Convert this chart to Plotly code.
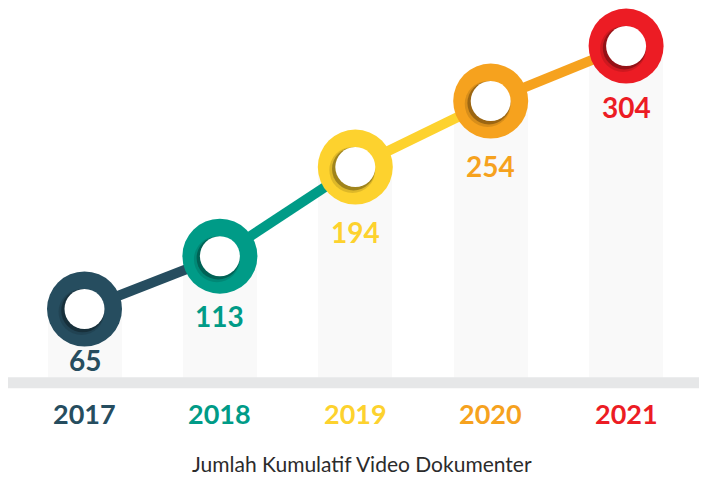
import plotly.graph_objects as go

# data
years = [2017, 2018, 2019, 2020, 2021]
values = [65, 113, 194, 254, 304]
colors = ["#264d5f", "#009b87", "#fdd22e", "#f6a21e", "#ec1c24"]
title_text = "Jumlah Kumulatif Video Dokumenter"

# style
label_shift = [51, 60, 65, 65, 61]   # px below ring centre
PX_X = 135.4                         # px per year
PX_Y = 1.1                           # px per unit
W, H = 699, 469                      # page body has an 8px margin
FONT = "Lato, 'Open Sans', sans-serif"

fig = go.Figure()

# pale columns behind each point
fig.add_trace(go.Bar(
    x=years, y=values, width=74 / PX_X,
    marker=dict(color="#f9f9f9", line=dict(width=0)),
    hoverinfo="skip", showlegend=False,
))

# line segments, coloured by the starting point
for i in range(len(years) - 1):
    fig.add_trace(go.Scatter(
        x=years[i:i + 2], y=values[i:i + 2], mode="lines",
        line=dict(color=colors[i], width=10),
        hoverinfo="skip", showlegend=False,
    ))

# rings
fig.add_trace(go.Scatter(
    x=years, y=values, mode="markers",
    marker=dict(size=75, color=colors, line=dict(width=0)),
    hoverinfo="skip", showlegend=False,
))

# soft shadow inside the hole (lower-left)
dx, dy = 3 / PX_X, 3 / PX_Y
fig.add_trace(go.Scatter(
    x=[x - dx for x in years], y=[v - dy for v in values], mode="markers",
    marker=dict(size=46, color="rgba(0,0,0,0.12)", line=dict(width=0)),
    hoverinfo="skip", showlegend=False,
))
fig.add_trace(go.Scatter(
    x=[x - dx * 0.6 for x in years], y=[v - dy * 0.6 for v in values], mode="markers",
    marker=dict(size=43, color="rgba(0,0,0,0.28)", line=dict(width=0)),
    hoverinfo="skip", showlegend=False,
))

# white centres
fig.add_trace(go.Scatter(
    x=years, y=values, mode="markers",
    marker=dict(size=40, color="white", line=dict(width=0)),
    hoverinfo="skip", showlegend=False,
))

# value labels
for yr, v, c, s in zip(years, values, colors, label_shift):
    fig.add_annotation(
        x=yr, y=v, xref="x", yref="y", text=f"<b>{v}</b>",
        showarrow=False, yshift=-s, yanchor="middle",
        font=dict(family=FONT, size=28, color=c),
    )

# year labels
for yr, c in zip(years, colors):
    fig.add_annotation(
        x=yr, y=1 - 405 / H, xref="x", yref="paper", text=f"<b>{yr}</b>",
        showarrow=False, yanchor="middle",
        font=dict(family=FONT, size=27, color=c),
    )

fig.add_annotation(
    x=354 / W, y=0, xref="paper", yref="paper", text=title_text,
    showarrow=False, yanchor="bottom", borderpad=0,
    font=dict(family=FONT, size=21, color="#2b2b2b"),
)

# grey ground band
fig.add_shape(
    type="rect", xref="paper", yref="y",
    x0=0, x1=1, y0=-7, y1=3,
    fillcolor="#e6e7e8", line=dict(width=0), layer="above",
)

x0 = 2017 - 76.5 / PX_X
y1 = 65 + 301 / PX_Y
fig.update_layout(
    width=W, height=H,
    margin=dict(l=0, r=0, t=0, b=0),
    paper_bgcolor="white", plot_bgcolor="white",
    xaxis=dict(range=[x0, x0 + W / PX_X], visible=False, fixedrange=True),
    yaxis=dict(range=[y1 - H / PX_Y, y1], visible=False, fixedrange=True),
    showlegend=False,
    bargap=0,
)

fig.write_html("out.html")
